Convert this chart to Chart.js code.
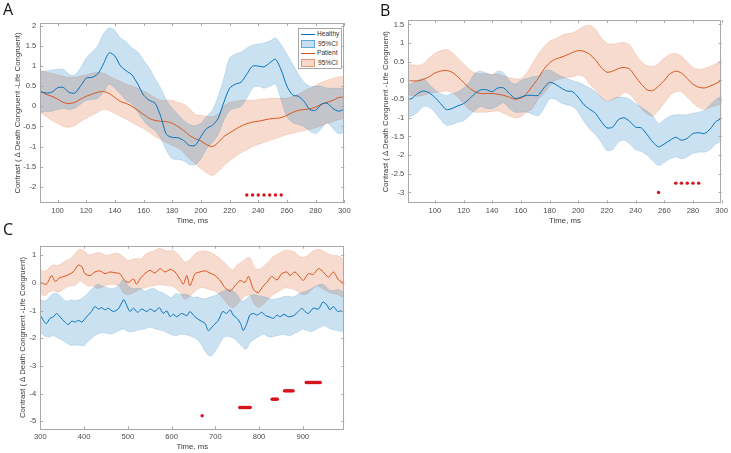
<!DOCTYPE html>
<html>
<head>
<meta charset="utf-8">
<script src="https://cdn.jsdelivr.net/npm/chart.js@4.4.1/dist/chart.umd.min.js"></script>
<style>
  body { margin: 0; background: #fff; }
  #fig { position: relative; width: 731px; height: 453px; overflow: hidden; }
  #fig canvas { position: absolute; }
  .letter { position: absolute; font-family: "Open Sans", sans-serif; font-size: 16px; line-height: 1; color: #111; }
  .legend { position: absolute; border: 1px solid #a6a6a6; background: #fff;
            font-family: "Liberation Sans", Arial, sans-serif; font-size: 6.6px; color: #333; }
  .legend .row { height: 9.7px; line-height: 9.7px; white-space: nowrap; }
  .legend .ln { display: inline-block; width: 14px; height: 1px; margin: 0 2px 0 2px; vertical-align: middle; }
  .legend .patch { display: inline-block; width: 12px; height: 6px; margin: 0 3px 0 2px; vertical-align: middle; }
</style>
</head>
<body>
<div id="fig">
  <canvas id="chartA" width="365" height="230" style="left:0;top:0"></canvas>
  <canvas id="chartB" width="363" height="230" style="left:368px;top:0"></canvas>
  <canvas id="chartC" width="365" height="221" style="left:0;top:232px"></canvas>

  <div class="letter" style="left:3px;top:1px">A</div>
  <div class="letter" style="left:380px;top:2px">B</div>
  <div class="letter" style="left:3px;top:221px">C</div>

  <div class="legend" style="left:298px;top:28px;width:42px;height:39px">
    <div class="row"><span class="ln" style="background:#0072BD"></span>Healthy</div>
    <div class="row"><span class="patch" style="background:rgba(0,114,189,0.22);border:0.5px solid rgba(0,114,189,0.5)"></span>95%CI</div>
    <div class="row"><span class="ln" style="background:#D95319"></span>Patient</div>
    <div class="row"><span class="patch" style="background:rgba(217,83,25,0.22);border:0.5px solid rgba(217,83,25,0.5)"></span>95%CI</div>
  </div>
</div>

<script>
// ---------- panel A : 88-300 ms ----------
const aTime = [88, 92, 96, 100, 104, 108, 112, 116, 120, 124, 128, 132, 136, 140, 144, 148, 152, 156, 160, 164, 168, 172, 176, 180, 184, 188, 192, 196, 200, 204, 208, 212, 216, 220, 224, 228, 232, 236, 240, 244, 248, 252, 256, 260, 264, 268, 272, 276, 280, 284, 288, 292, 296, 300];
const aHealthy = [0.37, 0.33, 0.35, 0.46, 0.47, 0.35, 0.33, 0.5, 0.7, 0.72, 0.8, 1.05, 1.33, 1.25, 1.0, 0.88, 0.78, 0.55, 0.28, 0.15, 0.08, -0.25, -0.7, -0.77, -0.78, -0.85, -0.97, -0.97, -0.75, -0.55, -0.47, -0.3, 0.1, 0.45, 0.55, 0.6, 0.8, 1.0, 1.0, 0.98, 1.08, 1.17, 0.9, 0.5, 0.28, 0.25, 0.12, -0.08, -0.1, 0.05, 0.08, -0.05, -0.12, -0.07];
const aHealthyHi = [0.85, 0.88, 0.9, 0.92, 0.92, 0.8, 0.78, 0.95, 1.2, 1.35, 1.5, 1.8, 1.95, 1.88, 1.7, 1.6, 1.45, 1.35, 1.15, 0.95, 0.7, 0.45, 0.15, -0.05, -0.2, -0.35, -0.45, -0.48, -0.42, -0.25, -0.1, 0.25, 0.7, 1.2, 1.3, 1.35, 1.45, 1.52, 1.55, 1.57, 1.62, 1.7, 1.53, 1.3, 1.05, 0.8, 0.6, 0.5, 0.5, 0.5, 0.45, 0.45, 0.45, 0.45];
const aHealthyLo = [-0.15, -0.13, -0.12, -0.08, -0.05, -0.08, -0.05, 0.05, 0.15, 0.17, 0.2, 0.35, 0.55, 0.45, 0.3, 0.15, 0.05, -0.15, -0.35, -0.5, -0.6, -0.8, -1.1, -1.3, -1.32, -1.35, -1.45, -1.45, -1.3, -1.05, -0.9, -0.7, -0.35, -0.1, -0.05, 0, 0.2, 0.45, 0.5, 0.45, 0.5, 0.55, 0.15, -0.25, -0.4, -0.45, -0.5, -0.62, -0.68, -0.55, -0.4, -0.55, -0.68, -0.65];
const aPatient = [0.38, 0.3, 0.25, 0.18, 0.1, 0.07, 0.1, 0.18, 0.25, 0.3, 0.35, 0.37, 0.32, 0.22, 0.12, 0.07, 0, -0.1, -0.2, -0.3, -0.35, -0.37, -0.38, -0.42, -0.5, -0.6, -0.72, -0.8, -0.86, -0.95, -1.0, -0.9, -0.75, -0.66, -0.57, -0.49, -0.43, -0.39, -0.37, -0.34, -0.31, -0.3, -0.28, -0.22, -0.15, -0.1, -0.08, -0.06, -0.02, 0.05, 0.1, 0.15, 0.22, 0.23];
const aPatientHi = [0.9, 0.85, 0.82, 0.78, 0.75, 0.72, 0.72, 0.75, 0.78, 0.82, 0.85, 0.82, 0.75, 0.68, 0.62, 0.55, 0.5, 0.45, 0.38, 0.3, 0.22, 0.15, 0.15, 0.15, 0.1, 0.05, -0.05, -0.2, -0.22, -0.25, -0.25, -0.2, 0, 0.1, 0.12, 0.15, 0.15, 0.15, 0.17, 0.18, 0.2, 0.2, 0.2, 0.2, 0.25, 0.3, 0.38, 0.45, 0.52, 0.6, 0.65, 0.7, 0.73, 0.75];
const aPatientLo = [-0.15, -0.25, -0.35, -0.42, -0.5, -0.52, -0.48, -0.38, -0.3, -0.22, -0.15, -0.08, -0.1, -0.18, -0.25, -0.32, -0.4, -0.48, -0.55, -0.65, -0.75, -0.82, -0.9, -0.97, -1.03, -1.15, -1.3, -1.42, -1.55, -1.65, -1.72, -1.62, -1.48, -1.35, -1.25, -1.15, -1.08, -1.0, -0.95, -0.9, -0.85, -0.8, -0.75, -0.7, -0.67, -0.63, -0.6, -0.57, -0.53, -0.48, -0.43, -0.38, -0.33, -0.3];
const aSigTime = [232, 236, 240, 244, 248, 252, 256];
const aSigLevel = [-2.2, -2.2, -2.2, -2.2, -2.2, -2.2, -2.2];
const aYTicks = [-2, -1.5, -1, -0.5, 0, 0.5, 1, 1.5, 2];
const abXTicks = [100, 120, 140, 160, 180, 200, 220, 240, 260, 280, 300];

// ---------- panel B : 82-300 ms ----------
const bTime = [80, 84, 88, 92, 96, 100, 104, 108, 112, 116, 120, 124, 128, 132, 136, 140, 144, 148, 152, 156, 160, 164, 168, 172, 176, 180, 184, 188, 192, 196, 200, 204, 208, 212, 216, 220, 224, 228, 232, 236, 240, 244, 248, 252, 256, 260, 264, 268, 272, 276, 280, 284, 288, 292, 296, 300];
const bHealthy = [-0.52, -0.48, -0.35, -0.28, -0.33, -0.45, -0.62, -0.78, -0.75, -0.68, -0.62, -0.5, -0.35, -0.25, -0.25, -0.3, -0.2, -0.2, -0.35, -0.48, -0.45, -0.4, -0.4, -0.4, -0.2, -0.05, -0.1, -0.2, -0.28, -0.3, -0.45, -0.65, -0.77, -0.88, -1.1, -1.27, -1.25, -1.05, -1.0, -1.1, -1.25, -1.27, -1.45, -1.65, -1.78, -1.7, -1.6, -1.52, -1.6, -1.55, -1.42, -1.4, -1.42, -1.3, -1.1, -1.02];
const bHealthyHi = [-0.12, -0.08, 0, 0.05, -0.1, -0.25, -0.35, -0.4, -0.35, -0.3, -0.2, -0.05, 0.2, 0.25, 0.2, 0.15, 0.25, 0.2, 0, -0.1, 0, 0.05, 0.1, 0.12, 0.25, 0.28, 0.2, 0.12, 0.05, 0, -0.05, -0.12, -0.2, -0.3, -0.45, -0.57, -0.5, -0.45, -0.45, -0.5, -0.62, -0.72, -0.82, -0.95, -1.15, -1.05, -0.95, -0.92, -0.92, -0.92, -0.88, -0.85, -0.8, -0.65, -0.5, -0.42];
const bHealthyLo = [-0.98, -0.95, -0.85, -0.7, -0.72, -0.85, -1.05, -1.2, -1.18, -1.12, -1.08, -0.95, -0.8, -0.7, -0.75, -0.75, -0.68, -0.6, -0.75, -0.85, -0.85, -0.85, -0.9, -0.95, -0.75, -0.5, -0.5, -0.6, -0.65, -0.7, -0.85, -1.1, -1.3, -1.45, -1.65, -1.88, -1.85, -1.65, -1.6, -1.7, -1.85, -1.9, -2.0, -2.15, -2.28, -2.2, -2.1, -2.05, -2.1, -2.05, -1.95, -1.92, -1.92, -1.85, -1.7, -1.62];
const bPatient = [0.01, -0.01, -0.01, 0.03, 0.1, 0.2, 0.25, 0.27, 0.22, 0.1, -0.05, -0.2, -0.3, -0.35, -0.35, -0.35, -0.37, -0.4, -0.45, -0.5, -0.47, -0.35, -0.15, 0.05, 0.3, 0.47, 0.57, 0.62, 0.68, 0.75, 0.8, 0.78, 0.7, 0.55, 0.35, 0.22, 0.25, 0.32, 0.35, 0.3, 0.1, -0.1, -0.25, -0.27, -0.15, 0, 0.18, 0.25, 0.2, 0.05, -0.1, -0.18, -0.2, -0.15, -0.08, 0];
const bPatientHi = [0.42, 0.42, 0.4, 0.45, 0.6, 0.72, 0.8, 0.83, 0.75, 0.6, 0.45, 0.3, 0.2, 0.18, 0.18, 0.17, 0.17, 0.12, 0.08, 0.05, 0.05, 0.2, 0.45, 0.7, 0.9, 1.05, 1.12, 1.2, 1.25, 1.28, 1.35, 1.45, 1.48, 1.38, 1.15, 1.0, 0.98, 1.0, 1.02, 0.95, 0.7, 0.5, 0.4, 0.38, 0.45, 0.6, 0.7, 0.72, 0.65, 0.5, 0.35, 0.3, 0.32, 0.38, 0.45, 0.55];
const bPatientLo = [-0.4, -0.4, -0.42, -0.4, -0.35, -0.32, -0.3, -0.28, -0.32, -0.45, -0.62, -0.78, -0.85, -0.85, -0.85, -0.83, -0.82, -0.88, -0.95, -1.0, -0.97, -0.85, -0.75, -0.5, -0.35, -0.15, 0, 0.05, 0.08, 0.1, 0.15, 0.1, -0.1, -0.25, -0.45, -0.55, -0.5, -0.45, -0.32, -0.38, -0.55, -0.75, -0.9, -0.95, -0.8, -0.6, -0.4, -0.3, -0.3, -0.45, -0.6, -0.72, -0.78, -0.72, -0.68, -0.62];
const bSigTime = [256, 268, 272, 276, 280, 284];
const bSigLevel = [-3.0, -2.75, -2.75, -2.75, -2.75, -2.75];
const bYTicks = [-3, -2.5, -2, -1.5, -1, -0.5, 0, 0.5, 1, 1.5];

// ---------- panel C : 300-995 ms ----------
const cTime = [300, 310, 320, 330, 340, 350, 360, 370, 380, 390, 400, 410, 420, 430, 440, 450, 460, 470, 480, 490, 500, 510, 520, 530, 540, 550, 560, 570, 580, 590, 600, 610, 620, 630, 640, 650, 660, 670, 680, 690, 700, 710, 720, 730, 740, 750, 760, 770, 780, 790, 800, 810, 820, 830, 840, 850, 860, 870, 880, 890, 900, 910, 920, 930, 940, 950, 960, 970, 980, 990, 995];
const cPatientHi = [0.49, 0.42, 0.55, 0.66, 0.63, 0.73, 0.82, 0.9, 1.08, 1.22, 1.17, 1.03, 1.04, 1.1, 1.08, 1.0, 1.03, 1.08, 1.06, 0.95, 0.82, 0.85, 0.9, 0.87, 1.03, 1.12, 1.17, 1.25, 1.22, 1.15, 1.19, 1.12, 0.95, 0.76, 0.82, 1.0, 1.12, 1.15, 1.15, 1.1, 1.01, 0.9, 0.76, 0.59, 0.47, 0.65, 0.76, 0.88, 0.9, 0.56, 0.5, 0.6, 0.75, 0.92, 1.02, 1.1, 1.19, 1.18, 1.14, 1.0, 0.93, 0.98, 1.12, 1.21, 1.2, 1.13, 1.04, 1.0, 0.99, 0.9, 0.84];
const cPatientLo = [-0.41, -0.46, -0.33, -0.28, -0.33, -0.25, -0.15, -0.1, -0.08, 0.08, -0.02, -0.12, -0.1, -0.2, -0.15, -0.08, -0.05, -0.05, -0.1, -0.35, -0.42, -0.37, -0.3, -0.21, -0.17, -0.12, -0.1, -0.05, -0.07, -0.1, -0.1, -0.2, -0.37, -0.58, -0.5, -0.35, -0.22, -0.16, -0.2, -0.25, -0.3, -0.42, -0.6, -0.79, -0.9, -0.77, -0.6, -0.45, -0.45, -0.78, -0.88, -0.78, -0.6, -0.45, -0.35, -0.25, -0.18, -0.19, -0.23, -0.32, -0.42, -0.4, -0.25, -0.12, -0.15, -0.25, -0.33, -0.38, -0.42, -0.5, -0.54];
const cHealthyHi = [-0.6, -0.65, -0.52, -0.38, -0.4, -0.55, -0.66, -0.61, -0.63, -0.6, -0.5, -0.35, -0.18, -0.05, -0.1, -0.15, -0.2, -0.18, -0.06, 0.12, -0.07, -0.2, -0.2, -0.2, -0.3, -0.22, -0.2, -0.3, -0.35, -0.45, -0.52, -0.38, -0.42, -0.4, -0.45, -0.52, -0.5, -0.57, -0.55, -0.5, -0.45, -0.36, -0.27, -0.23, -0.28, -0.42, -0.65, -0.6, -0.45, -0.42, -0.46, -0.49, -0.53, -0.59, -0.57, -0.53, -0.48, -0.49, -0.5, -0.39, -0.33, -0.28, -0.2, -0.12, -0.04, -0.08, -0.25, -0.27, -0.23, -0.3, -0.35];
const cHealthyLo = [-1.78, -1.92, -1.95, -1.91, -1.99, -2.07, -2.16, -2.26, -2.24, -2.25, -2.26, -2.1, -1.96, -1.85, -1.8, -1.81, -1.85, -1.8, -1.72, -1.66, -1.75, -1.76, -1.72, -1.68, -1.65, -1.6, -1.64, -1.68, -1.72, -1.8, -1.87, -1.9, -1.86, -1.86, -1.9, -1.97, -2.06, -2.28, -2.55, -2.64, -2.46, -2.2, -1.96, -1.93, -1.98, -2.1, -2.28, -2.4, -2.15, -2.03, -1.93, -1.85, -1.93, -1.95, -1.91, -1.87, -1.87, -1.91, -1.83, -1.76, -1.67, -1.72, -1.76, -1.68, -1.6, -1.54, -1.64, -1.69, -1.72, -1.76, -1.78];
// the two mean lines are sampled more finely than the bands
const cPatientTime = [300, 314, 326, 334, 345, 360, 375, 387, 395, 402, 414, 425, 436, 448, 459, 471, 482, 490, 501, 513, 520, 528, 539, 551, 562, 574, 585, 597, 608, 619, 627, 635, 642, 654, 665, 677, 688, 700, 711, 722, 734, 745, 757, 768, 776, 787, 798, 810, 818, 829, 841, 852, 864, 871, 882, 894, 901, 913, 924, 936, 947, 959, 970, 982, 995];
const cPatient = [0.02, -0.04, 0.27, 0.06, 0.19, 0.27, 0.4, 0.65, 0.59, 0.34, 0.27, 0.4, 0.44, 0.34, 0.4, 0.37, 0.34, 0.15, 0.02, 0.15, -0.04, 0.15, 0.34, 0.46, 0.36, 0.52, 0.4, 0.49, 0.4, 0.15, -0.04, 0.27, -0.1, 0.34, 0.4, 0.44, 0.36, 0.27, 0.09, -0.16, -0.29, -0.1, 0.09, 0.02, 0.24, -0.22, -0.35, -0.1, 0.02, 0.24, 0.11, 0.34, 0.4, 0.27, 0.4, 0.21, 0.09, 0.34, 0.31, 0.52, 0.4, 0.21, 0.4, 0.11, -0.01];
const cHealthyTime = [300, 307, 314, 322, 330, 337, 345, 356, 364, 372, 379, 387, 395, 406, 417, 425, 433, 440, 448, 455, 467, 478, 486, 491, 497, 505, 513, 522, 532, 543, 552, 562, 572, 581, 589, 597, 604, 612, 623, 635, 642, 650, 658, 665, 677, 684, 696, 707, 717, 726, 734, 741, 750, 758, 764, 772, 779, 787, 796, 806, 815, 823, 833, 841, 848, 857, 867, 879, 890, 898, 905, 913, 924, 936, 946, 955, 962, 970, 980, 987, 995];
const cHealthy = [-1.16, -1.35, -1.47, -1.28, -1.22, -1.1, -1.22, -1.41, -1.5, -1.38, -1.41, -1.35, -1.41, -1.22, -1.03, -0.85, -0.94, -0.89, -0.97, -0.91, -1.03, -0.94, -0.72, -0.6, -0.79, -1.03, -0.91, -1.06, -0.94, -1.03, -0.94, -1.03, -0.89, -1.1, -1.01, -1.22, -1.13, -1.22, -1.1, -1.18, -1.03, -1.16, -1.28, -1.35, -1.47, -1.72, -1.53, -1.35, -1.03, -1.1, -0.97, -1.16, -1.28, -1.47, -1.72, -1.47, -1.16, -1.1, -1.16, -1.06, -1.18, -1.22, -1.28, -1.16, -1.22, -1.13, -1.22, -1.18, -1.03, -0.91, -1.03, -1.1, -0.91, -0.94, -0.69, -0.79, -0.97, -0.85, -1.03, -1.01, -1.06];
const cSigTime = [670, 756, 758, 760, 762, 764, 766, 768, 770, 772, 774, 776, 778, 780, 830, 832, 834, 836, 838, 840, 842, 858, 860, 862, 864, 866, 868, 870, 872, 874, 876, 878, 908, 910, 912, 914, 916, 918, 920, 922, 924, 926, 928, 930, 932, 934, 936, 938, 940];
const cSigLevel = [-4.8, -4.5, -4.5, -4.5, -4.5, -4.5, -4.5, -4.5, -4.5, -4.5, -4.5, -4.5, -4.5, -4.5, -4.2, -4.2, -4.2, -4.2, -4.2, -4.2, -4.2, -3.9, -3.9, -3.9, -3.9, -3.9, -3.9, -3.9, -3.9, -3.9, -3.9, -3.9, -3.6, -3.6, -3.6, -3.6, -3.6, -3.6, -3.6, -3.6, -3.6, -3.6, -3.6, -3.6, -3.6, -3.6, -3.6, -3.6, -3.6];
const cYTicks = [-5, -4, -3, -2, -1, 0, 1];
const cXTicks = [300, 400, 500, 600, 700, 800, 900];

const BLUE = "0,114,189";
const ORANGE = "217,83,25";
const FONT = "'Liberation Sans', Arial, sans-serif";
const Y_TITLE = "Contrast ( \u2206 Death Congruent -Life Congruent)";

function pts(xs, ys) {
	return xs.map((x, i) => ({ x: x, y: ys[i] }));
}

// upper edge + lower edge filled back to the upper one
function band(xs, hi, lo, rgb) {
	const edge = { borderColor: `rgba(${rgb},0.25)`, borderWidth: 0.6, pointRadius: 0, tension: 0.3, order: 3 };
	return [
		Object.assign({ data: pts(xs, hi), fill: false }, edge),
		Object.assign({ data: pts(xs, lo), fill: "-1", backgroundColor: `rgba(${rgb},0.21)` }, edge),
	];
}

function meanLine(xs, ys, rgb) {
	return { data: pts(xs, ys), borderColor: `rgb(${rgb})`, borderWidth: 1, pointRadius: 0, tension: 0.25, fill: false, order: 1 };
}

function sigDots(xs, ys) {
	return {
		data: pts(xs, ys), showLine: false, pointRadius: 1.7, pointBorderWidth: 0,
		pointBackgroundColor: "#d7141e", order: 0,
	};
}

// matlab style box with inward ticks on all four sides
const boxPlugin = {
	id: "box",
	afterDraw(chart) {
		const { ctx, chartArea: a, scales } = chart;
		const len = 3;
		ctx.save();
		ctx.strokeStyle = "#a9a9a9";
		ctx.lineWidth = 1;
		ctx.strokeRect(Math.round(a.left) + 0.5, Math.round(a.top) + 0.5, Math.round(a.width) - 1, Math.round(a.height) - 1);
		ctx.beginPath();
		scales.x.ticks.forEach((t) => {
			const px = Math.round(scales.x.getPixelForValue(t.value)) + 0.5;
			ctx.moveTo(px, a.bottom); ctx.lineTo(px, a.bottom - len);
			ctx.moveTo(px, a.top); ctx.lineTo(px, a.top + len);
		});
		scales.y.ticks.forEach((t) => {
			const py = Math.round(scales.y.getPixelForValue(t.value)) + 0.5;
			ctx.moveTo(a.left, py); ctx.lineTo(a.left + len, py);
			ctx.moveTo(a.right, py); ctx.lineTo(a.right - len, py);
		});
		ctx.stroke();
		ctx.restore();
	},
};

function renderPanel(id, p) {
	const tickFont = { family: FONT, size: 7.6 };
	const titleFont = { family: FONT, size: 7.8 };
	return new Chart(document.getElementById(id), {
		type: "line",
		data: { datasets: p.datasets },
		options: {
			responsive: false,
			animation: false,
			devicePixelRatio: 1,
			layout: { padding: { top: p.top, right: p.right, bottom: 0, left: 0 } },
			plugins: { legend: { display: false }, tooltip: { enabled: false } },
			scales: {
				x: {
					type: "linear", min: p.xMin, max: p.xMax,
					afterBuildTicks: (s) => { s.ticks = p.xTicks.map((v) => ({ value: v })); },
					afterFit: (s) => { s.height = p.xHeight; },
					grid: { display: false, drawTicks: false },
					border: { display: false },
					ticks: { padding: 3, color: "#4a4a4a", font: tickFont, maxRotation: 0, autoSkip: false, callback: (v) => String(v) },
					title: { display: true, text: "Time, ms", color: "#3a3a3a", font: titleFont, padding: { top: 0, bottom: p.xTitlePad } },
				},
				y: {
					type: "linear", min: p.yMin, max: p.yMax,
					afterBuildTicks: (s) => { s.ticks = p.yTicks.map((v) => ({ value: v })); },
					afterFit: (s) => { s.width = p.yWidth; },
					grid: { display: false, drawTicks: false },
					border: { display: false },
					ticks: { padding: 4, color: "#4a4a4a", font: tickFont, autoSkip: false, callback: (v) => String(v) },
					title: { display: true, text: Y_TITLE, color: "#3a3a3a", font: titleFont, padding: { top: p.yTitlePad, bottom: 0 } },
				},
			},
		},
		plugins: [boxPlugin],
	});
}

renderPanel("chartA", {
	datasets: [
		meanLine(aTime, aHealthy, BLUE),
		meanLine(aTime, aPatient, ORANGE),
		sigDots(aSigTime, aSigLevel),
		...band(aTime, aHealthyHi, aHealthyLo, BLUE),
		...band(aTime, aPatientHi, aPatientLo, ORANGE),
	],
	xMin: 88, xMax: 300, yMin: -2.4, yMax: 2.07,
	xTicks: abXTicks, yTicks: aYTicks,
	top: 23, right: 20.7, yWidth: 40.3, xHeight: 27,
	yTitlePad: 13.3, xTitlePad: 4.3,
});

renderPanel("chartB", {
	datasets: [
		meanLine(bTime, bHealthy, BLUE),
		meanLine(bTime, bPatient, ORANGE),
		sigDots(bSigTime, bSigLevel),
		...band(bTime, bHealthyHi, bHealthyLo, BLUE),
		...band(bTime, bPatientHi, bPatientLo, ORANGE),
	],
	xMin: 81.5, xMax: 300, yMin: -3.29, yMax: 1.62,
	xTicks: abXTicks, yTicks: bYTicks,
	top: 20, right: 9, yWidth: 40.3, xHeight: 26.7,
	yTitlePad: 13.3, xTitlePad: 4.3,
});

renderPanel("chartC", {
	datasets: [
		meanLine(cHealthyTime, cHealthy, BLUE),
		meanLine(cPatientTime, cPatient, ORANGE),
		sigDots(cSigTime, cSigLevel),
		...band(cTime, cHealthyHi, cHealthyLo, BLUE),
		...band(cTime, cPatientHi, cPatientLo, ORANGE),
	],
	xMin: 300, xMax: 995, yMin: -5.29, yMax: 1.35,
	xTicks: cXTicks, yTicks: cYTicks,
	top: 13.7, right: 20.7, yWidth: 40.3, xHeight: 23.7,
	yTitlePad: 18.3, xTitlePad: 1.6,
});
</script>
</body>
</html>
